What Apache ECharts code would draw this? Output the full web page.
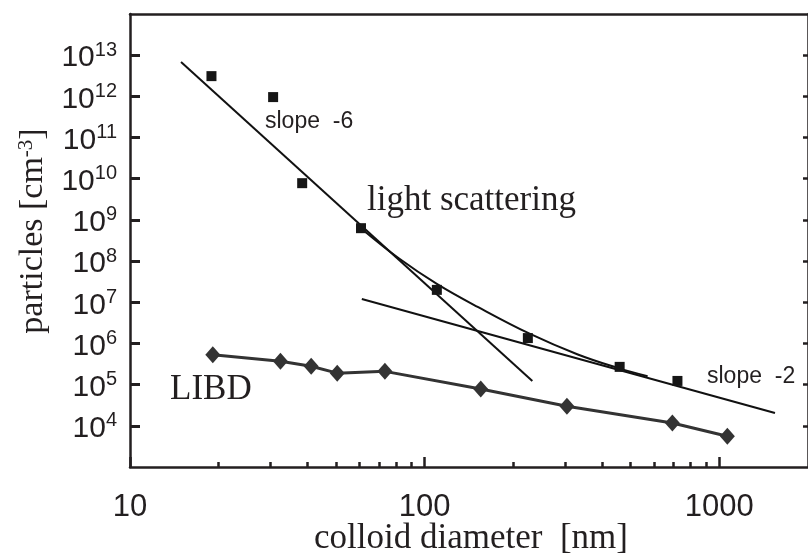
<!DOCTYPE html>
<html>
<head>
<meta charset="utf-8">
<script src="https://cdn.jsdelivr.net/npm/echarts@6/dist/echarts.min.js"></script>
<style>
html,body{margin:0;padding:0;background:#fff;}
#chart{width:808px;height:555px;}
</style>
</head>
<body>
<div id="chart"></div>
<script>
// ---- data ----
const xMin = 10, xMax = 2000;
const yMin = 1e3, yMax = 1e14;
const xTickValues = [10, 100, 1000];
const xMinorValues = [20, 30, 40, 50, 60, 70, 80, 90, 200, 300, 400, 500, 600, 700, 800, 900];
const yTickValues = [1e4, 1e5, 1e6, 1e7, 1e8, 1e9, 1e10, 1e11, 1e12, 1e13];

// light scattering (squares)
const lsDiam = [18.9, 30.6, 38.4, 60.8, 110, 224, 459, 721];
const lsConc = [3.1e12, 9.6e11, 7.8e9, 6.3e8, 2.0e7, 1.35e6, 2.7e5, 1.23e5];
// LIBD (diamonds)
const libdDiam = [19.1, 32.4, 41.2, 50.5, 73.3, 155, 304, 693, 1065];
const libdConc = [5.3e5, 3.7e5, 2.8e5, 1.9e5, 2.1e5, 7.8e4, 3.0e4, 1.17e4, 5.6e3];
// slope -6 fit line
const fit6Diam = [14.9, 232];
const fit6Conc = [6.8e12, 1.23e5];
// slope -2 fit line
const fit2Diam = [61.2, 1545];
const fit2Conc = [1.2e7, 2.04e4];
// combined curve
const curveDiam = [60.8, 81.7, 110, 152, 228, 331, 452, 571];
const curveConc = [6.3e8, 1.17e8, 2.8e7, 7.6e6, 1.7e6, 5.4e5, 2.55e5, 1.6e5];

const pairs = (xs, ys) => xs.map((x, i) => [x, ys[i]]);
const ink = '#231f20';
const sans = 'Liberation Sans, Arial, sans-serif';
const serif = 'Liberation Serif, Times New Roman, serif';

const chart = echarts.init(document.getElementById('chart'), null, {renderer: 'canvas'});
const option = {
  animation: false,
  backgroundColor: '#fff',
  grid: {left: 130, top: 14, width: 681, height: 453, containLabel: false},
  xAxis: [
    {
      type: 'log', logBase: 10, min: xMin, max: xMax, position: 'bottom',
      axisLine: {show: true, lineStyle: {color: ink, width: 2.5}},
      axisTick: {show: true, inside: true, length: 10, customValues: xTickValues, lineStyle: {color: ink, width: 2.5}},
      axisLabel: {show: true, customValues: xTickValues, margin: 25, fontSize: 31, fontFamily: sans, color: ink,
        formatter: v => String(Math.round(v))},
      splitLine: {show: false}, minorTick: {show: false}
    },
    {
      type: 'log', logBase: 10, min: xMin, max: xMax, position: 'bottom',
      axisLine: {show: false},
      axisTick: {show: true, inside: true, length: 5, customValues: xMinorValues, lineStyle: {color: ink, width: 2.5}},
      axisLabel: {show: false},
      splitLine: {show: false}
    },
    {
      type: 'log', logBase: 10, min: xMin, max: xMax, position: 'top',
      axisLine: {show: true, lineStyle: {color: ink, width: 2.5}},
      axisTick: {show: false}, axisLabel: {show: false}, splitLine: {show: false}
    }
  ],
  yAxis: [
    {
      type: 'log', logBase: 10, min: yMin, max: yMax, position: 'left',
      axisLine: {show: true, lineStyle: {color: ink, width: 2.5}},
      axisTick: {show: true, inside: true, length: 10, customValues: yTickValues, lineStyle: {color: ink, width: 3}},
      axisLabel: {
        show: true, customValues: yTickValues, margin: 13, color: ink, fontFamily: sans,
        formatter: v => '{b|10}{s|' + Math.round(Math.log10(v)) + '}',
        rich: {
          b: {fontSize: 30, fontFamily: sans, color: ink, lineHeight: 30, padding: [6, 0, 0, 0]},
          s: {fontSize: 20, fontFamily: sans, color: ink, verticalAlign: 'top', padding: [0, 0, 6, 0]}
        }
      },
      splitLine: {show: false}
    },
    {
      type: 'log', logBase: 10, min: yMin, max: yMax, position: 'right',
      axisLine: {show: true, lineStyle: {color: ink, width: 2.5}},
      axisTick: {show: true, inside: true, length: 5, customValues: yTickValues, lineStyle: {color: ink, width: 2.5}},
      axisLabel: {show: false}, splitLine: {show: false}
    }
  ],
  series: [
    {
      name: 'slope -6', type: 'line', data: pairs(fit6Diam, fit6Conc),
      showSymbol: false, symbol: 'none', lineStyle: {color: '#111', width: 2}, z: 2
    },
    {
      name: 'slope -2', type: 'line', data: pairs(fit2Diam, fit2Conc),
      showSymbol: false, symbol: 'none', lineStyle: {color: '#111', width: 2}, z: 2
    },
    {
      name: 'combined', type: 'line', data: pairs(curveDiam, curveConc), smooth: 0.4,
      showSymbol: false, symbol: 'none', lineStyle: {color: '#111', width: 2}, z: 2
    },
    {
      name: 'light scattering', type: 'scatter', data: pairs(lsDiam, lsConc),
      symbol: 'rect', symbolSize: 10, itemStyle: {color: '#161616', opacity: 1}, z: 4
    },
    {
      name: 'LIBD', type: 'line', data: pairs(libdDiam, libdConc),
      symbol: 'diamond', symbolSize: [15, 17], showSymbol: true,
      lineStyle: {color: '#333', width: 3}, itemStyle: {color: '#333', borderWidth: 0, opacity: 1}, z: 3
    }
  ],
  graphic: [
    {type: 'text', x: 265, y: 122, style: {text: 'slope  -6', font: '23px ' + sans, fill: ink, align: 'left', verticalAlign: 'middle'}},
    {type: 'text', x: 707, y: 377, style: {text: 'slope  -2', font: '23px ' + sans, fill: ink, align: 'left', verticalAlign: 'middle'}},
    {type: 'text', x: 367, y: 201, style: {text: 'light scattering', font: '35px ' + serif, fill: ink, align: 'left', verticalAlign: 'middle'}},
    {type: 'text', x: 170, y: 390, style: {text: 'LIBD', font: '35px ' + serif, fill: ink, align: 'left', verticalAlign: 'middle'}},
    {type: 'text', x: 471, y: 539, style: {text: 'colloid diameter  [nm]', font: '35px ' + serif, fill: ink, align: 'center', verticalAlign: 'middle'}},
    {type: 'text', x: 33, y: 231, rotation: Math.PI / 2,
      style: {
        text: '{a|particles [cm}{s|-3}{a|]}', fill: ink, align: 'center', verticalAlign: 'middle',
        rich: {
          a: {fontSize: 34, fontFamily: serif, fill: ink, color: ink, lineHeight: 34},
          s: {fontSize: 21, fontFamily: serif, fill: ink, color: ink, verticalAlign: 'top'}
        }
      }}
  ]
};
chart.setOption(option);
</script>
</body>
</html>
